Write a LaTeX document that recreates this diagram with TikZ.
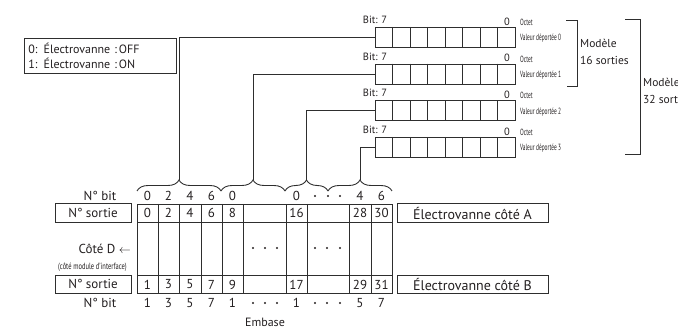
\documentclass[tikz,border=0pt]{standalone}
\usepackage{fontspec}
\setmainfont{PT Sans}
\usetikzlibrary{decorations.pathreplacing}
\definecolor{lc}{HTML}{2E2E2E}
\definecolor{tc}{HTML}{231F20}
\begin{document}
\begin{tikzpicture}[x=1pt,y=-1pt,
  ln/.style={draw=lc, line width=0.9pt},
  reg/.style={draw=lc, line width=0.9pt, minimum width=140pt, minimum height=20pt, inner sep=0pt, anchor=north west},
  num/.style={font=\fontsize{13}{14}\selectfont, text=tc, inner sep=0pt},
  bitlbl/.style={font=\fontsize{10.5}{11}\selectfont, text=tc, inner sep=0pt},
  modl/.style={font=\fontsize{11.5}{12}\selectfont, text=tc, inner sep=0pt, anchor=west},
  tiny/.style={font=\fontsize{9}{9}\selectfont, text=tc, inner sep=0pt, anchor=west, xscale=0.6},
  lblbox/.style={draw=lc, line width=0.9pt, font=\fontsize{13}{14}\selectfont, text=tc, inner sep=0pt},
  brc/.style={ln, decorate, decoration={brace, amplitude=11pt}},
  dot/.style={fill=tc, draw=none}
]
\useasboundingbox (0,0) rectangle (678,328);
\clip (0,0) rectangle (678,328);

% legend
\node[draw=lc, line width=0.9pt, anchor=north west, minimum width=152pt, minimum height=35pt,
      text width=144pt, inner xsep=4pt, inner ysep=0pt, align=left,
      font=\fontsize{12}{15.5}\selectfont, text=tc] (legend) at (24,38)
  {0: Électrovanne :\,OFF\\1: Électrovanne :\,ON};

% registers
\foreach \i/\t in {0/27,1/63.7,2/100.3,3/137}{
  \node[reg] (reg\i) at (375,\t) {};
  \foreach \j in {1,...,7}{ \draw[ln] (375+\j*17.5,\t) -- ++(0,20); }
  \node[bitlbl] (bit\i) at (375,\t-7) {Bit: 7};
  \node[bitlbl] (zero\i) at (507,\t-5.5) {0};
  \node[tiny] (oct\i) at (520,\t-4.5) {Octet};
  \node[tiny] (val\i) at (520,\t+11.5) {Valeur déportée \i};
}

% braces
\draw[brc] (137,191) -- (221,191);
\draw[brc] (221,191) -- (285,191);
\draw[brc] (285,191) -- (328,191);
\draw[brc] (328,191) -- (392,191);
\coordinate (tip0) at (179,180);
\coordinate (tip1) at (253,180);
\coordinate (tip2) at (306.5,180);
\coordinate (tip3) at (360,180);

% connectors
\draw[ln] (reg0.west) -| (tip0);
\draw[ln] (reg1.west) -| (tip1);
\draw[ln] (reg2.west) -| (tip2);
\draw[ln] (reg3.west) -| (tip3);

% model brackets
\draw[ln] (566,20) -- (577,20) -- (577,86) -- (567,86);
\node[modl] (m16a) at (580,43) {Modèle};
\node[modl] (m16b) at (580,60) {16 sorties};
\draw[ln] (625,19) -- (640,19) -- (640,154) -- (625,154);
\node[modl] (m32a) at (643,82) {Modèle};
\node[modl] (m32b) at (643,99) {32 sorties};

% table
\draw[ln] (137,204) rectangle (392,293);
\draw[ln] (137,222) -- (392,222);
\draw[ln] (137,275) -- (392,275);
\foreach \x in {158,179,201,222,243,286,307,349,371}{ \draw[ln] (\x,204) -- (\x,293); }

\foreach \x/\a/\b [count=\k] in {147.5/0/1,168.5/2/3,190/4/5,211.5/6/7,232.5/8/9,296.5/16/17,360/28/29,381.5/30/31}{
  \node[num] (na\k) at (\x,213) {\a};
  \node[num] (nb\k) at (\x,284.5) {\b};
}

% bit number rows
\foreach \x/\a [count=\k] in {147.5/0,168.5/2,190/4,211.5/6,232.5/0,296.5/0,360/4,381.5/6}{
  \node[num] (bt\k) at (\x,196) {\a};
}
\foreach \x/\a [count=\k] in {147.5/1,168.5/3,190/5,211.5/7,232.5/1,296.5/1,360/5,381.5/7}{
  \node[num] (bb\k) at (\x,303) {\a};
}
\foreach \x in {315,328,340}{ \fill[dot] (\x,196) circle (1.2); }
\foreach \x in {253,265,277,315,327,340}{ \fill[dot] (\x,303) circle (1.2); \fill[dot] (\x,248) circle (1.2); }

% left labels
\node[num] (nbit1) at (100,195.5) {N° bit};
\node[lblbox, minimum width=76pt, minimum height=19pt] (ns1) at (93,213) {N° sortie};
\node[num, anchor=east] (coted) at (131,249) {Côté D $\leftarrow$};
\node[tiny, anchor=center, xscale=0.72/0.6] (cotem) at (92.5,267) {(côté module d'interface)};
\node[lblbox, minimum width=76pt, minimum height=18pt] (ns2) at (93,284) {N° sortie};
\node[num] (nbit2) at (100,302.5) {N° bit};

% right labels
\node[lblbox, minimum width=151pt, minimum height=19pt, font=\fontsize{14}{15}\selectfont] (eva) at (472.5,213) {Électrovanne côté A};
\node[lblbox, minimum width=151pt, minimum height=18pt, font=\fontsize{14}{15}\selectfont] (evb) at (472.5,284) {Électrovanne côté B};

\node[num, font=\fontsize{12}{13}\selectfont] (embase) at (265,322) {Embase};
\end{tikzpicture}
\end{document}
